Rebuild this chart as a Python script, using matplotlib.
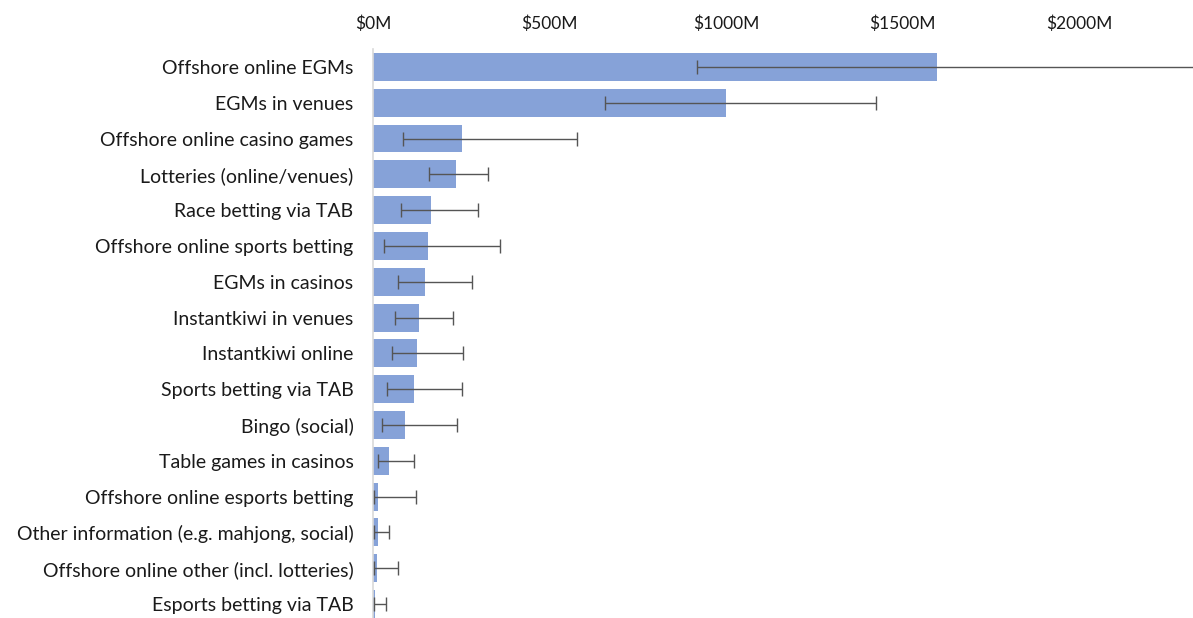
import matplotlib
matplotlib.use("Agg")
import matplotlib.pyplot as plt
import numpy as np

categories = [
    "Offshore online EGMs",
    "EGMs in venues",
    "Offshore online casino games",
    "Lotteries (online/venues)",
    "Race betting via TAB",
    "Offshore online sports betting",
    "EGMs in casinos",
    "Instantkiwi in venues",
    "Instantkiwi online",
    "Sports betting via TAB",
    "Bingo (social)",
    "Table games in casinos",
    "Offshore online esports betting",
    "Other information (e.g. mahjong, social)",
    "Offshore online other (incl. lotteries)",
    "Esports betting via TAB",
]
values = [1598, 1000, 251, 234, 163, 157, 146, 131, 125, 117, 92, 46, 13, 13, 10, 7]
lower = [918, 656, 84, 159, 78, 31, 71, 63, 53, 39, 25, 13, 4, 4, 4, 4]
upper = [2500, 1426, 577, 326, 298, 361, 280, 227, 255, 251, 237, 116, 121, 46, 72, 36]
xticks = [0, 500, 1000, 1500, 2000]
xticklabels = ["$0M", "$500M", "$1000M", "$1500M", "$2000M"]

plt.rcParams['font.family'] = ['Lato', 'DejaVu Sans']

fig = plt.figure(figsize=(11.93, 6.18), dpi=100)
ax = fig.add_axes([373/1193, 0, 1 - 373/1193, 1 - 49/618])

y = np.arange(len(categories))
vals = np.array(values)
xerr = np.array([vals - np.array(lower), np.array(upper) - vals])
ax.barh(y, vals, height=0.78, color="#86a2d8", edgecolor="none", zorder=2)
ax.errorbar(vals, y, xerr=xerr, fmt="none", ecolor="#555555", elinewidth=1.0,
            capsize=5, capthick=1.0, zorder=3)

ax.set_xlim(0, 2323)
ax.set_ylim(15.39, -0.5)
ax.set_yticks(y)
ax.set_yticklabels(categories, fontsize=14, color="#1a1a1a")
ax.set_xticks(xticks)
ax.set_xticklabels(xticklabels, fontsize=12.5, color="#1a1a1a")
ax.xaxis.tick_top()
ax.tick_params(axis="x", length=0, pad=12)
ax.tick_params(axis="y", length=0, pad=14)
for s in ["top", "right", "bottom"]:
    ax.spines[s].set_visible(False)
ax.spines["left"].set_color("#d9d9d9")
ax.spines["left"].set_linewidth(1.2)

fig.savefig("out.png", dpi=100)
